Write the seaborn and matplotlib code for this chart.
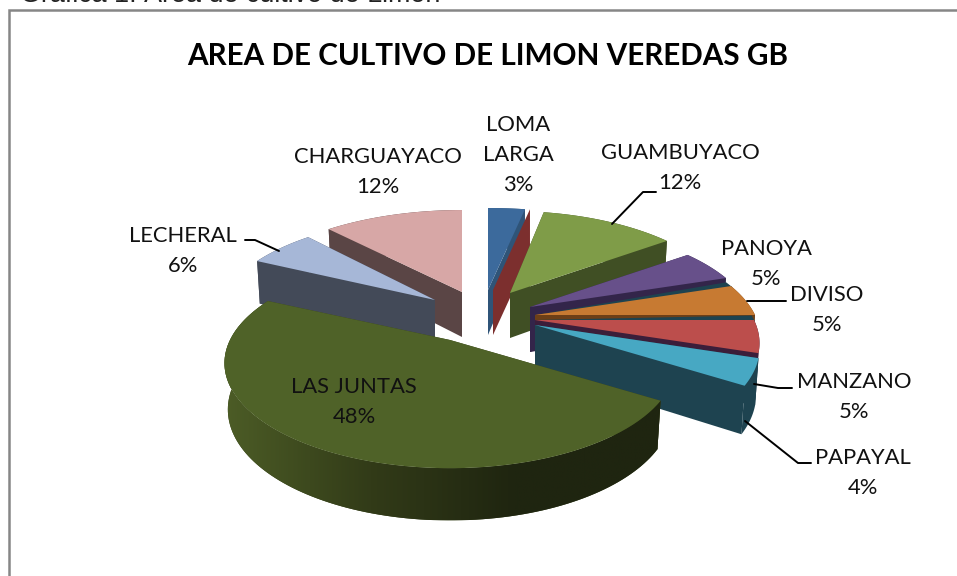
import numpy as np
import matplotlib
matplotlib.use('Agg')
import matplotlib.pyplot as plt
from matplotlib.colors import ListedColormap
from matplotlib.patches import Polygon
import seaborn as sns

W, H = 957, 576

# chart data, clockwise from 12 o'clock
names = ['LOMA LARGA', 'GUAMBUYACO', 'PANOYA', 'DIVISO', 'MANZANO', 'PAPAYAL',
         'LAS JUNTAS', 'LECHERAL', 'CHARGUAYACO']
values = [3, 12, 5, 5, 5, 4, 48, 6, 12]

top_colors = ['#3c6a9c', '#7f9c48', '#67508a', '#c77a32', '#bc4e4c', '#47a8c3',
              '#4f6228', '#a6b7d7', '#d7a7a6']
side_colors = ['#2f5478', '#404f24', '#33254a', '#6d3f17', '#3b1e3a', '#1e4350',
               '#35401a', '#434a58', '#5a4545']

# where the tip of each exploded slice sits, and how wide its disc is
tip_x = [488, 510, 530, 535, 535, 535, 450, 435, 462]
tip_y = [290, 293, 307, 315, 320, 325, 340, 300, 292]
radius_x = [240, 219, 220, 220, 219, 219, 220, 215, 226]
radius_y = 100
persp = 0.22
depth = 45
draw_order = [8, 0, 1, 7, 2, 3, 4, 5, 6]


def top_point(i, deg):
    # disc point seen in perspective, deg clockwise from the back of the pie
    t = np.radians(deg)
    u, v = np.sin(t), -np.cos(t)
    s = 1 / (1 - persp * v)
    return tip_x[i] + radius_x[i] * u * s, tip_y[i] + radius_y * v * s


def low_point(i, deg):
    # same point on the underside of the slice
    x, y = top_point(i, deg)
    s = 1 / (1 + persp * np.cos(np.radians(deg)))
    return tip_x[i] + (x - tip_x[i]) * 0.985, y + depth * s ** 0.6


def wedge_outline(i, a0, a1):
    return [(tip_x[i], tip_y[i])] + [top_point(i, a) for a in np.linspace(a0, a1, 80)]


sns.set_theme(style='white')
plt.rcParams['font.family'] = ['Lato', 'DejaVu Sans']

fig = plt.figure(figsize=(W / 100, H / 100), dpi=100)
ax = fig.add_axes([0, 0, 1, 1])

# chart frame, it runs off the picture on the right and bottom
ax.plot([8.8, 8.8, W], [H, 9.8, 9.8], color='#868686', lw=1.8, solid_joinstyle='miter')

# caption of the page, only its lower edge is inside the picture
ax.text(20, 2.5, 'Gráfica 1. Área de cultivo de Limón', fontsize=19.4,
        family='Liberation Sans', color='#222222', va='baseline', ha='left')

ax.text(488, 56, 'AREA DE CULTIVO DE LIMON VEREDAS GB', fontsize=21.3, fontweight='bold',
        color='black', ha='center', va='center')

edges = np.cumsum([0] + values) / sum(values) * 360
juntas_shade = sns.blend_palette(['#4c5c26', '#323b18', '#1f2510', '#1f2510'], n_colors=200)

for i in draw_order:
    a0, a1 = edges[i], edges[i + 1]
    tip_low = (tip_x[i], tip_y[i] + depth)
    # straight cut faces first
    for a in (a0, a1):
        ax.add_patch(Polygon([(tip_x[i], tip_y[i]), top_point(i, a), low_point(i, a), tip_low],
                             fc=side_colors[i], ec='none'))
    angs = np.linspace(a0, a1, 120)
    rim = [top_point(i, a) for a in angs] + [low_point(i, a) for a in angs[::-1]]
    rim_patch = Polygon(rim, fc=side_colors[i], ec='none')
    ax.add_patch(rim_patch)
    # the big slice has its rim shaded from left to right
    if names[i] == 'LAS JUNTAS':
        xs = [p[0] for p in rim]
        ys = [p[1] for p in rim]
        img = ax.imshow(np.linspace(0, 1, 300).reshape(1, -1), cmap=ListedColormap(juntas_shade),
                        extent=[min(xs), max(xs), max(ys), min(ys)], aspect='auto',
                        zorder=rim_patch.get_zorder())
        img.set_clip_path(rim_patch)
    # stray red face that sits next to LOMA LARGA
    if names[i] == 'LOMA LARGA':
        x1, y1 = top_point(i, a1)
        ax.add_patch(Polygon([(tip_x[i] + 5, tip_y[i]), (x1 + 5, y1), (x1 + 5, y1 + depth),
                              (tip_x[i] + 5, tip_y[i] + depth)], fc='#7c2f2e', ec='none'))
    # thin dark teal strip above the two middle slices
    if names[i] in ('DIVISO', 'MANZANO'):
        ax.add_patch(Polygon(wedge_outline(i, a0 - 2.6, a0 + 1), fc='#1e4350', ec='none'))
    ax.add_patch(Polygon(wedge_outline(i, a0, a1), fc=top_colors[i], ec='none'))

ax.set_xlim(0, W)
ax.set_ylim(H, 0)
ax.axis('off')

# data labels
label_style = dict(fontsize=15.8, color='#111111', ha='center', va='center', linespacing=1.62)
ax.text(518, 155, 'LOMA\nLARGA\n3%', **label_style)
ax.text(680, 168, 'GUAMBUYACO\n12%', **label_style)
ax.text(378, 172, 'CHARGUAYACO\n12%', **label_style)
ax.text(183, 251, 'LECHERAL\n6%', **label_style)
ax.text(766, 264, 'PANOYA\n5%', **label_style)
ax.text(827, 310, 'DIVISO\n5%', **label_style)
ax.text(854, 397, 'MANZANO\n5%', **label_style)
ax.text(863, 473, 'PAPAYAL\n4%', **label_style)
ax.text(354, 402, 'LAS JUNTAS\n48%', **label_style)

# leader lines
leaders = [([612, 643, 656], [224, 192, 192]),
           ([245, 255, 279], [240, 240, 251]),
           ([747, 786], [301, 301]),
           ([754, 778, 792], [384, 388, 388]),
           ([745, 798, 811], [421, 463, 463])]
for lx, ly in leaders:
    ax.plot(lx, ly, color='black', lw=1.4)

fig.savefig('out.png', dpi=100)
